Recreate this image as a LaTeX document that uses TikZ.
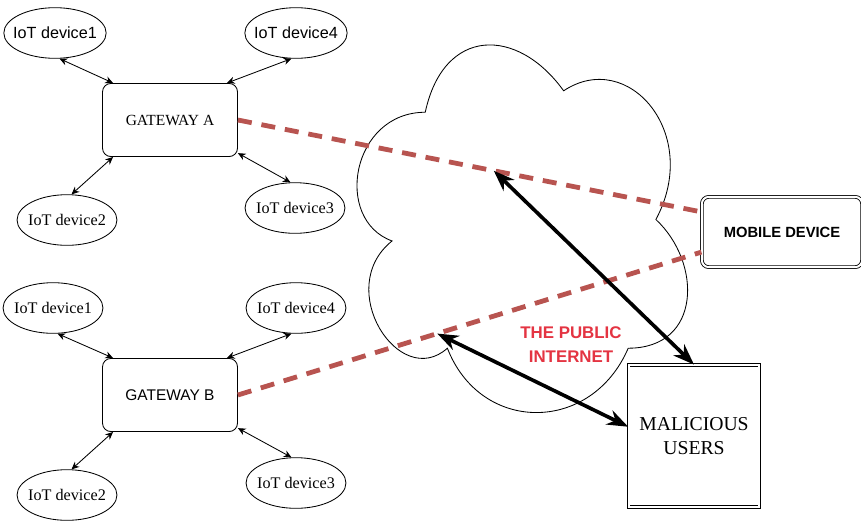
\documentclass[tikz,border=0pt]{standalone}
\usepackage{fontspec}
\setmainfont{Liberation Serif}
\setsansfont{Liberation Sans}
\usetikzlibrary{shapes.geometric,arrows.meta}
\definecolor{linkred}{RGB}{184,84,80}
\definecolor{netred}{RGB}{228,52,66}

\begin{document}
\begin{tikzpicture}[x=0.025cm, y=-0.025cm, semithick,
  dev/.style = {draw, ellipse, minimum width=66pt, minimum height=36pt, inner ysep=0pt, inner xsep=-2.5pt, font=\fontsize{11.5}{13}\selectfont},
  devsans/.style = {dev, inner xsep=-4pt, font=\sffamily\fontsize{11.5}{13}\selectfont},
  gw/.style = {draw, fill=white, rounded corners=6pt, minimum width=96pt, minimum height=52pt, font=\fontsize{11}{13}\selectfont},
  box/.style = {draw, fill=white, double, double distance=1.4pt},
  link/.style = {{Stealth[length=5.5pt,width=5pt]}-{Stealth[length=5.5pt,width=5pt]}},
  tunnel/.style = {linkred, line width=3.4pt, dash pattern=on 10pt off 7pt},
  attack/.style = {line width=2.6pt, {Stealth[length=15pt,width=11pt]}-{Stealth[length=15pt,width=11pt]}}]
\useasboundingbox (0,0) rectangle (861,520);

% the public internet
\begin{scope}[shift={(333,5)}, xscale=3.69, yscale=4.29]
\draw[fill=white] (25,25) .. controls (5,25) and (0,50) .. (16,55)
  .. controls (0,66) and (18,90) .. (31,80)
  .. controls (40,100) and (70,100) .. (80,80)
  .. controls (100,80) and (100,60) .. (87.5,50)
  .. controls (100,30) and (80,10) .. (62.5,20)
  .. controls (50,5) and (30,5) .. (25,25) -- cycle;
\end{scope}
\node[text=netred, font=\sffamily\bfseries\fontsize{12}{17}\selectfont, align=center] (net) at (571,345) {THE PUBLIC\\INTERNET};

% gateway A
\node[gw] (gwA) at (170,120) {GATEWAY A};
\node[devsans] (d1a) at (55,33) {IoT device1};
\node[devsans] (d4a) at (296,33) {IoT device4};
\node[dev] (d2a) at (67,220) {IoT device2};
\node[dev] (d3a) at (295,208) {IoT device3};

% gateway B
\node[gw, font=\sffamily\fontsize{11}{13}\selectfont] (gwB) at (170,395) {GATEWAY B};
\node[dev] (d1b) at (53,308) {IoT device1};
\node[dev] (d4b) at (296,308) {IoT device4};
\node[dev] (d2b) at (67,495) {IoT device2};
\node[dev] (d3b) at (296,483) {IoT device3};

% mobile and attackers
\node[box, rounded corners=5pt, minimum width=114pt, minimum height=50pt, font=\sffamily\bfseries\fontsize{10.5}{12}\selectfont] (mob) at (782,232) {MOBILE DEVICE};
\node[box, minimum width=93pt, minimum height=101pt, align=center, font=\fontsize{14}{16.5}\selectfont] (mal) at (694,436) {MALICIOUS\\USERS};

\draw[link] (d1a.-80) -- (gwA.147);
\draw[link] (d4a.-100) -- (gwA.33);
\draw[link] (d2a.80) -- (gwA.213);
\draw[link] (d3a.100) -- (gwA.-26);
\draw[link] (d1b.-80) -- (gwB.147);
\draw[link] (d4b.-100) -- (gwB.33);
\draw[link] (d2b.80) -- (gwB.213);
\draw[link] (d3b.100) -- (gwB.-26);

\draw[tunnel] (gwA.east) -- (mob.166) coordinate[pos=0.552] (tapA);
\draw[tunnel] (gwB.east) -- (mob.194) coordinate[pos=0.43] (tapB);

\draw[attack] (tapA) -- (mal.north);
\draw[attack] (tapB) -- (mal.172);
\end{tikzpicture}
\end{document}
